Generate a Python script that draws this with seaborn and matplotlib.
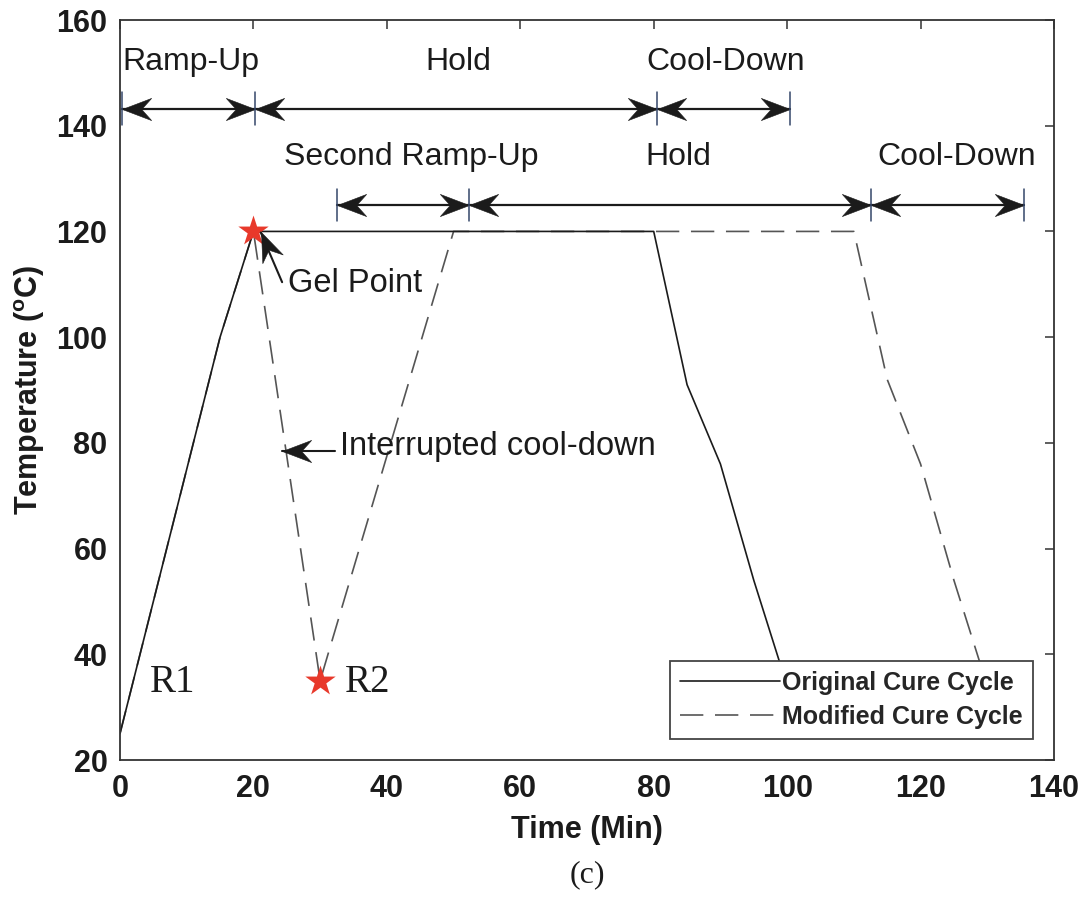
import numpy as np
import pandas as pd
import matplotlib
matplotlib.use("Agg")
import matplotlib.pyplot as plt
import seaborn as sns
from matplotlib.path import Path
from matplotlib.markers import MarkerStyle
from matplotlib.transforms import Affine2D
from matplotlib.lines import Line2D

# --- cure-cycle temperature profiles (time in min, temperature in deg C) ---
orig_time = [0, 15, 20, 80, 85, 90, 95, 100]
orig_temp = [25, 100, 120, 120, 91, 76, 54, 34]
mod_time = [0, 15, 20, 30, 50, 110, 115, 120, 125, 130]
mod_temp = [25, 100, 120, 35, 120, 120, 92, 76, 54, 34]
series_names = ["Original Cure Cycle", "Modified Cure Cycle"]

# key events marked with stars
gel_point = (20, 120)
r2_point = (30, 35)

# phase spans shown as double arrows
phase_labels_1 = ["Ramp-Up", "Hold", "Cool-Down"]
phase_bounds_1 = [0.3, 20.2, 80.5, 100.4]
phase_labels_2 = ["Second Ramp-Up", "Hold", "Cool-Down"]
phase_bounds_2 = [32.5, 52.3, 112.6, 135.5]

x_ticks = [0, 20, 40, 60, 80, 100, 120, 140]
y_ticks = [20, 40, 60, 80, 100, 120, 140, 160]

ink = "#1b1b1b"
dash_col = "#555555"
star_col = "#e8392b"

sns.set_style("white")
plt.rcParams["font.family"] = ["Liberation Sans", "DejaVu Sans"]
plt.rcParams["mathtext.fontset"] = "custom"
plt.rcParams["mathtext.bf"] = "Liberation Sans:bold"
plt.rcParams["mathtext.rm"] = "Liberation Sans"

fig = plt.figure(figsize=(10.82, 9), dpi=100)
ax = fig.add_axes([120 / 1082, 140 / 900, 934 / 1082, 740 / 900])

df = pd.concat([
    pd.DataFrame({"Time": orig_time, "Temp": orig_temp, "Cycle": series_names[0]}),
    pd.DataFrame({"Time": mod_time, "Temp": mod_temp, "Cycle": series_names[1]}),
], ignore_index=True)

sns.lineplot(
    data=df, x="Time", y="Temp", hue="Cycle", style="Cycle",
    hue_order=[series_names[1], series_names[0]],
    style_order=[series_names[1], series_names[0]],
    palette={series_names[0]: ink, series_names[1]: dash_col},
    dashes={series_names[0]: "", series_names[1]: (14, 7)},
    estimator=None, sort=False, linewidth=1.2, ax=ax, legend=False,
)

ax.set_xlim(0, 140)
ax.set_ylim(20, 160)
ax.set_xticks(x_ticks)
ax.set_yticks(y_ticks)

# red stars: gel point and start of the second ramp
stars = pd.DataFrame({"Time": [gel_point[0], r2_point[0]],
                      "Temp": [gel_point[1], r2_point[1]]})
sns.scatterplot(data=stars, x="Time", y="Temp", marker="*", s=23 ** 2,
                color=star_col, linewidth=0, zorder=5, ax=ax, legend=False)


def head_marker(angle):
    verts = [(0, 0), (-1, 0.38), (-0.66, 0), (-1, -0.38), (0, 0)]
    codes = [Path.MOVETO, Path.LINETO, Path.LINETO, Path.LINETO, Path.CLOSEPOLY]
    return MarkerStyle(Path(verts, codes), transform=Affine2D().rotate_deg(angle))


def arrow_head(x0, y0, x1, y1):
    """Concave arrowhead with its tip at (x1, y1), pointing away from (x0, y0)."""
    p0 = ax.transData.transform((x0, y0))
    p1 = ax.transData.transform((x1, y1))
    ang = np.degrees(np.arctan2(p1[1] - p0[1], p1[0] - p0[0]))
    ax.plot([x1], [y1], marker=head_marker(ang), ms=42, color=ink, mec=ink,
            mew=0.4, ls="none", zorder=6, clip_on=False)


def arrow(x0, y0, x1, y1):
    ax.plot([x0, x1], [y0, y1], color=ink, lw=1.5, zorder=6)
    arrow_head(x0, y0, x1, y1)


def phase_row(labels, bounds, level, text_y, shift):
    for lab, a, b in zip(labels, bounds[:-1], bounds[1:]):
        ax.plot([a, b], [level, level], color=ink, lw=1.6, zorder=6)
        arrow_head(b, level, a, level)
        arrow_head(a, level, b, level)
        ax.text((a + b) / 2 + shift, text_y, lab, ha="center", va="center",
                fontsize=23, color=ink)
    for b in bounds:
        ax.plot([b, b], [level - 3.1, level + 3.1], color="#34466a", lw=1.1,
                zorder=7)


phase_row(phase_labels_1, phase_bounds_1, 143.2, 152, 0.4)
phase_row(phase_labels_2, phase_bounds_2, 125.0, 134, 1.3)

# callouts
arrow(24.3, 110.4, 21.1, 119.8)
ax.text(25.2, 110.2, "Gel Point", ha="left", va="center", fontsize=23.5, color=ink)
arrow(32.3, 78.4, 24.3, 78.4)
ax.text(33.0, 79.3, "Interrupted cool-down", ha="left", va="center",
        fontsize=23.5, color=ink)

serif = ["Liberation Serif", "DejaVu Serif"]
ax.text(4.5, 34.6, "R1", ha="left", va="center", fontsize=28, color=ink, family=serif)
ax.text(33.7, 34.6, "R2", ha="left", va="center", fontsize=28, color=ink, family=serif)

# axes styling
for side in ["left", "right", "top", "bottom"]:
    ax.spines[side].set_visible(True)
    ax.spines[side].set_color("#333333")
    ax.spines[side].set_linewidth(1.3)
ax.tick_params(direction="in", top=True, right=True, length=6.5, width=1.1,
               color="#333333", labelsize=22, labelcolor=ink)
ax.tick_params(axis="x", pad=10)
ax.tick_params(axis="y", pad=9)
for lab in ax.get_xticklabels() + ax.get_yticklabels():
    lab.set_fontweight("bold")

ax.set_xlabel("Time (Min)", fontsize=22, fontweight="bold", color=ink)
ax.set_ylabel(r"Temperature ($\mathbf{^{o}}$C)", fontsize=22, fontweight="bold",
              color=ink)
ax.xaxis.set_label_coords(0.5, -0.095)
ax.xaxis.label.set_va("center")
ax.yaxis.set_label_coords(-0.097, 0.5)
ax.yaxis.label.set_va("center")

handles = [Line2D([], [], color=ink, lw=1.2),
           Line2D([], [], color=dash_col, lw=1.2, dashes=(14, 7))]
leg = ax.legend(handles, series_names, loc="lower right",
                prop={"weight": "bold", "size": 18}, frameon=True,
                fancybox=False, framealpha=1, edgecolor="#444444",
                borderaxespad=0.85, handlelength=4.0, handletextpad=0.1,
                borderpad=0.4, labelspacing=0.4)
leg.get_frame().set_linewidth(1.3)
leg.set_zorder(8)

fig.text(587 / 1082, 1 - 875 / 900, "(c)", ha="center", va="center",
         fontsize=23, color=ink, family=serif)

fig.savefig("out.png", dpi=100)
